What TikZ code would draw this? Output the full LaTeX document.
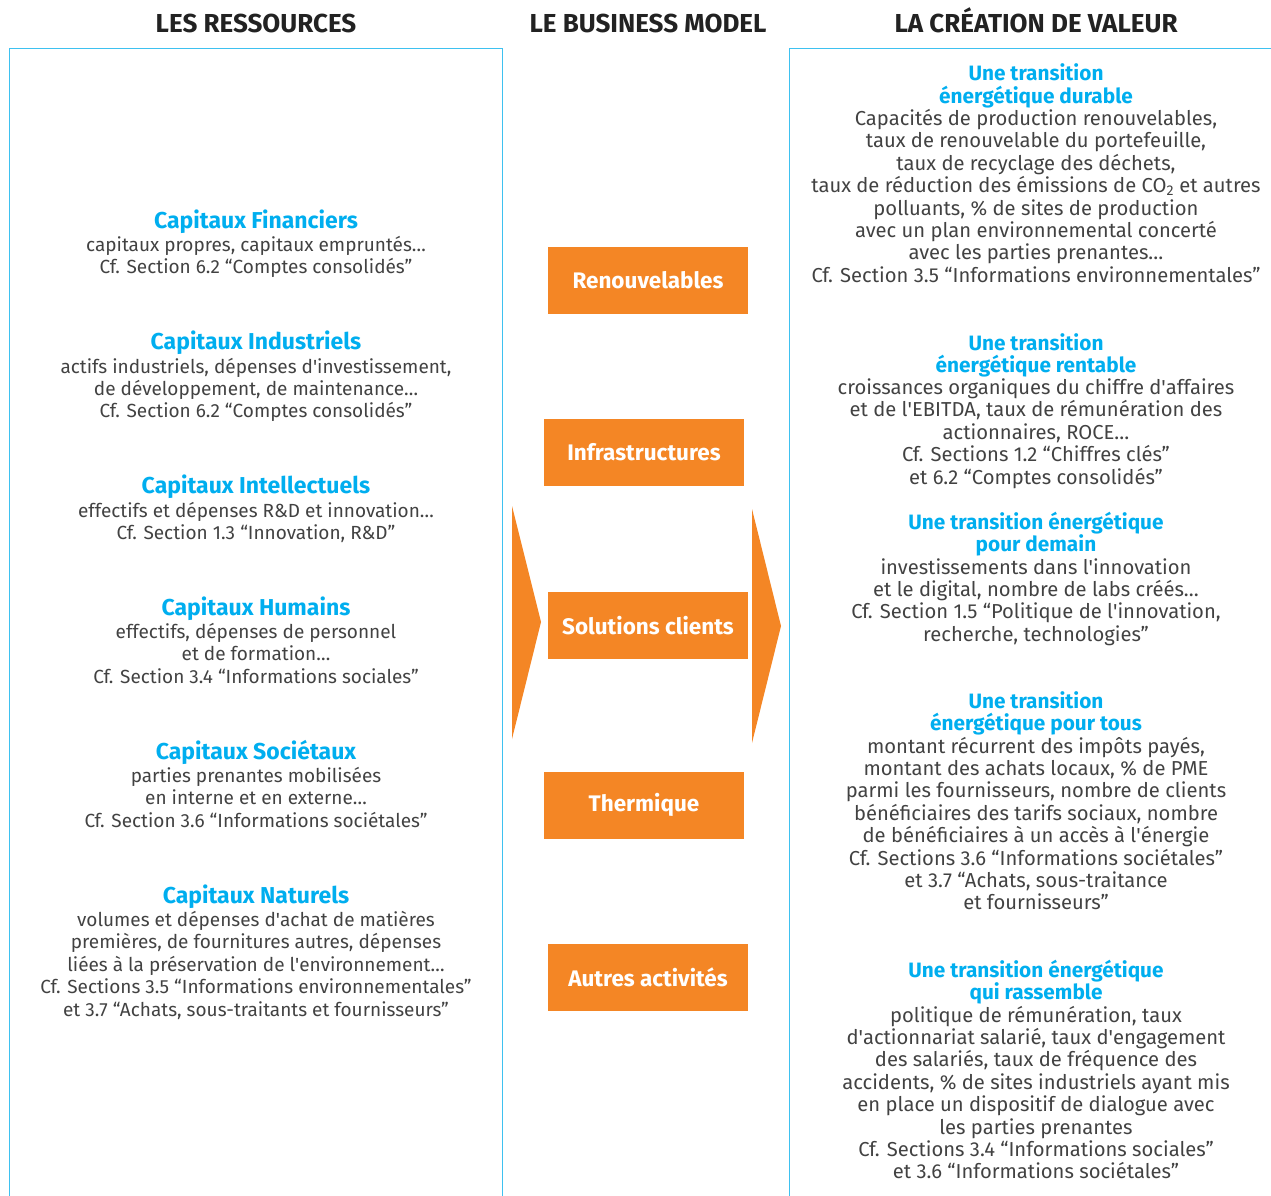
\documentclass[tikz,border=0pt]{standalone}
\usepackage{fontspec}
\setmainfont{Fira Sans}
\newcommand{\ap}{\textquotesingle}
\definecolor{cyanT}{HTML}{00AEEF}
\definecolor{panelC}{HTML}{3EC1F0}
\definecolor{orangeB}{HTML}{F48625}
\definecolor{bodyG}{HTML}{424242}
\definecolor{hdrG}{HTML}{222222}
\begin{document}
\begin{tikzpicture}[x=1pt,y=-1pt,
  hdr/.style={font=\bfseries\fontsize{26}{30}\selectfont, text=hdrG, inner sep=0, anchor=base},
  ttl/.style={font=\bfseries\fontsize{23}{22.4}\selectfont, text=cyanT, align=center, inner sep=0, anchor=base},
  ttlr/.style={ttl, font=\bfseries\fontsize{20.8}{22.4}\selectfont},
  bdy/.style={font=\fontsize{19}{22.4}\selectfont, text=bodyG, align=center, inner sep=0, anchor=base},
  bdyr/.style={bdy, font=\fontsize{20.2}{22.4}\selectfont},
  obox/.style={fill=orangeB, text=white, font=\bfseries\fontsize{22.5}{26}\selectfont, minimum width=200, minimum height=67, inner sep=0},
  panel/.style={draw=panelC, line width=1.4pt},
  chev/.style={fill=orangeB}
]
\useasboundingbox (0,0) rectangle (1271,1196);
% panels
\draw[panel] (9.5,1197) -- (9.5,48.5) -- (502.5,48.5) -- (502.5,1197);
\draw[panel] (789.5,1197) -- (789.5,48.5) -- (1275,48.5);
% headers
\node[hdr] (h1) at (256,33) {LES RESSOURCES};
\node[hdr] (h2) at (648,33) {LE BUSINESS MODEL};
\node[hdr] (h3) at (1036,33) {LA CRÉATION DE VALEUR};
% chevrons
\fill[chev] (512,506) -- (541,622) -- (512,739) -- cycle;
\fill[chev] (752,509) -- (781,626) -- (752,743) -- cycle;
% orange boxes
\node[obox] (b1) at (648,280) {Renouvelables};
\node[obox] (b2) at (644,452.5) {Infrastructures};
\node[obox] (b3) at (648,625.5) {Solutions clients};
\node[obox] (b4) at (644,805) {Thermique};
\node[obox] (b5) at (648,977) {Autres activités};
% left column (anchor base = last line's baseline)
\node[ttl] (t1) at (256,228.5) {Capitaux Financiers};
\node[bdy] (d1) at (256,273.9) {capitaux propres, capitaux empruntés…\\Cf. Section 6.2 “Comptes consolidés”};
\node[ttl] (t2) at (256,349.5) {Capitaux Industriels};
\node[bdy] (d2) at (256,417.8) {actifs industriels, dépenses d\ap investissement,\\de développement, de maintenance…\\Cf. Section 6.2 “Comptes consolidés”};
\node[ttl] (t3) at (256,493.5) {Capitaux Intellectuels};
\node[bdy] (d3) at (256,539.4) {effectifs et dépenses R\&D et innovation…\\Cf. Section 1.3 “Innovation, R\&D”};
\node[ttl] (t4) at (256,615.5) {Capitaux Humains};
\node[bdy] (d4) at (256,683.3) {effectifs, dépenses de personnel\\et de formation…\\Cf. Section 3.4 “Informations sociales”};
\node[ttl] (t5) at (256,759.5) {Capitaux Sociétaux};
\node[bdy] (d5) at (256,827.3) {parties prenantes mobilisées\\en interne et en externe…\\Cf. Section 3.6 “Informations sociétales”};
\node[ttl] (t6) at (256,903.5) {Capitaux Naturels};
\node[bdy] (d6) at (256,1016.1) {volumes et dépenses d\ap achat de matières\\premières, de fournitures autres, dépenses\\liées à la préservation de l\ap environnement…\\Cf. Sections 3.5 “Informations environnementales”\\et 3.7 “Achats, sous-traitants et fournisseurs”};
% right column
\node[ttlr] (r1) at (1036,103.4) {Une transition\\énergétique durable};
\node[bdyr] (s1) at (1036,282.3) {Capacités de production renouvelables,\\taux de renouvelable du portefeuille,\\taux de recyclage des déchets,\\taux de réduction des émissions de CO\textsubscript{2} et autres\\polluants, \% de sites de production\\avec un plan environnemental concerté\\avec les parties prenantes…\\Cf. Section 3.5 “Informations environnementales”};
\node[ttlr] (r2) at (1036,372.9) {Une transition\\énergétique rentable};
\node[bdyr] (s2) at (1036,484.1) {croissances organiques du chiffre d\ap affaires\\et de l\ap EBITDA, taux de rémunération des\\actionnaires, ROCE…\\Cf. Sections 1.2 “Chiffres clés”\\et 6.2 “Comptes consolidés”};
\node[ttlr] (r3) at (1036,551.9) {Une transition énergétique\\pour demain};
\node[bdyr] (s3) at (1036,641.2) {investissements dans l\ap innovation\\et le digital, nombre de labs créés…\\Cf. Section 1.5 “Politique de l\ap innovation,\\recherche, technologies”};
\node[ttlr] (r4) at (1036,730.9) {Une transition\\énergétique pour tous};
\node[bdyr] (s4) at (1036,909.8) {montant récurrent des impôts payés,\\montant des achats locaux, \% de PME\\parmi les fournisseurs, nombre de clients\\bénéficiaires des tarifs sociaux, nombre\\de bénéficiaires à un accès à l\ap énergie\\Cf. Sections 3.6 “Informations sociétales”\\et 3.7 “Achats, sous-traitance\\et fournisseurs”};
\node[ttlr] (r5) at (1036,999.9) {Une transition énergétique\\qui rassemble};
\node[bdyr] (s5) at (1036,1178.8) {politique de rémunération, taux\\d\ap actionnariat salarié, taux d\ap engagement\\des salariés, taux de fréquence des\\accidents, \% de sites industriels ayant mis\\en place un dispositif de dialogue avec\\les parties prenantes\\Cf. Sections 3.4 “Informations sociales”\\et 3.6 “Informations sociétales”};
\end{tikzpicture}
\end{document}
